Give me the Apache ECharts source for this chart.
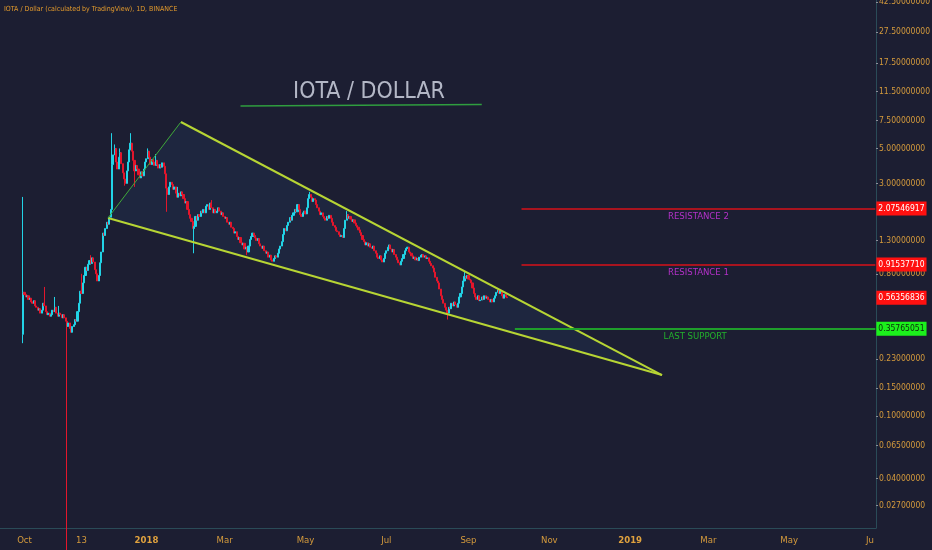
<!DOCTYPE html>
<html><head><meta charset="utf-8">
<script src="https://cdn.jsdelivr.net/npm/echarts@6/dist/echarts.min.js"></script>
<style>html,body{margin:0;padding:0;background:#1c1e32;}#c{width:932px;height:550px;}</style>
</head><body><div id="c"></div>
<script>
// ---------- data ----------
const startDay = '2017-09-13';
const dayCount = 661;
const timeLabelDates = ['2017-10-01','2017-11-13','2018-01-01','2018-03-01','2018-05-01','2018-07-01','2018-09-01','2018-11-01','2019-01-01','2019-03-01','2019-05-01','2019-07-01'];
const timeLabelTexts = ['Oct','13','2018','Mar','May','Jul','Sep','Nov','2019','Mar','May','Ju'];
const boldLabels = ['2018','2019'];
const priceTicks = [42.5, 27.5, 17.5, 11.5, 7.5, 5, 3, 1.3, 0.8, 0.23, 0.15, 0.1, 0.065, 0.04, 0.027];

const firstCandleDate = '2017-09-30';
const firstOpen = 0.33;
const closes = [
 0.61,
 0.59,0.57,0.58,0.55,0.56,0.53,0.52,0.54,0.50,0.49,
 0.47,0.48,0.45,0.47,0.52,0.50,0.46,0.44,0.45,0.43,
 0.44,0.47,0.46,0.49,0.45,0.43,0.45,0.44,0.42,0.44,
 0.42,0.40,0.37,0.39,0.36,0.34,0.37,0.38,0.41,0.40,
 0.46,0.52,0.62,0.60,0.70,0.78,0.88,0.84,0.92,0.97,
 0.93,1.01,0.95,0.85,0.80,0.72,0.78,0.94,1.10,1.45,
 1.40,1.55,1.70,1.65,1.83,2.05,3.95,4.55,5.00,4.10,
 3.70,4.40,4.70,4.00,3.50,3.20,3.00,3.60,4.10,4.90,
 5.40,4.80,4.20,3.60,3.90,3.70,3.40,3.25,3.55,3.35,
 3.70,4.10,4.30,4.80,4.40,3.95,4.25,4.10,3.90,4.20,
 3.95,3.75,3.95,3.80,4.05,3.85,3.45,2.80,2.55,2.85,
 3.05,2.95,2.75,2.85,2.60,2.45,2.60,2.50,2.65,2.55,
 2.40,2.25,2.30,2.05,1.90,1.80,1.72,1.55,1.60,1.85,
 1.75,1.90,1.85,2.00,1.95,2.05,1.95,2.15,2.20,2.05,
 2.25,2.10,1.95,2.05,1.95,2.00,2.10,2.00,1.90,1.95,
 1.85,1.80,1.82,1.70,1.65,1.70,1.58,1.55,1.45,1.48,
 1.38,1.32,1.36,1.26,1.22,1.25,1.15,1.18,1.10,1.20,
 1.32,1.38,1.45,1.40,1.35,1.30,1.34,1.24,1.20,1.16,
 1.20,1.12,1.08,1.10,1.02,1.05,0.98,0.96,1.00,1.04,
 1.02,1.08,1.15,1.20,1.28,1.42,1.55,1.50,1.62,1.70,
 1.82,1.75,1.88,1.95,2.05,1.98,2.20,2.05,1.90,1.85,
 1.95,2.00,1.92,2.10,2.40,2.55,2.45,2.30,2.40,2.35,
 2.20,2.10,2.00,1.90,1.95,1.85,1.80,1.75,1.85,1.80,
 1.88,1.80,1.70,1.62,1.58,1.50,1.48,1.42,1.38,1.40,
 1.36,1.55,1.75,1.90,1.80,1.85,1.78,1.72,1.76,1.68,
 1.62,1.58,1.52,1.46,1.40,1.32,1.28,1.22,1.26,1.20,
 1.24,1.18,1.16,1.20,1.12,1.08,1.02,1.00,1.04,0.98,
 0.95,1.00,1.08,1.12,1.18,1.22,1.15,1.10,1.14,1.06,
 1.02,0.98,0.94,0.91,0.96,1.00,1.06,1.12,1.16,1.18,
 1.10,1.08,1.04,1.00,1.02,0.98,1.00,0.97,1.02,1.05,
 1.06,1.02,1.04,1.00,1.01,0.96,0.93,0.90,0.87,0.82,
 0.76,0.72,0.70,0.64,0.58,0.55,0.52,0.49,0.47,0.45,
 0.49,0.48,0.52,0.50,0.53,0.51,0.49,0.52,0.57,0.60,
 0.66,0.72,0.77,0.75,0.78,0.74,0.73,0.70,0.65,0.60,
 0.57,0.55,0.58,0.54,0.545,0.57,0.55,0.58,0.56,0.57,
 0.55,0.53,0.55,0.53,0.56,0.58,0.61,0.63,0.60,0.62,
 0.58,0.56,0.59,0.57,0.56356836
];
// notable wicks: [date, high, low]
const wicks = [
 ['2017-09-30', 2.46, 0.29],
 ['2017-10-16', 0.66, null],
 ['2017-10-24', 0.57, null],
 ['2017-10-27', 0.50, null],
 ['2017-11-02', null, 0.01],
 ['2017-11-13', 0.80, null],
 ['2017-11-20', 1.05, null],
 ['2017-12-06', 6.25, null],
 ['2017-12-08', 5.3, null],
 ['2017-12-12', 5.0, null],
 ['2017-12-16', null, 2.9],
 ['2017-12-20', 6.25, null],
 ['2017-12-23', null, 2.85],
 ['2018-01-02', 5.0, null],
 ['2018-01-08', 4.6, null],
 ['2018-01-16', null, 1.98],
 ['2018-01-25', 2.85, null],
 ['2018-02-06', null, 1.08],
 ['2018-02-19', 2.35, null],
 ['2018-03-18', null, 1.05],
 ['2018-05-04', 2.65, null],
 ['2018-06-01', 2.0, null],
 ['2018-08-16', null, 0.41],
 ['2018-08-29', 0.82, null]
];
const wedgeUpper = [['2018-01-27', 7.36], ['2019-01-25', 0.182]];
const wedgeLower = [['2017-12-03', 1.81], ['2019-01-25', 0.182]];
const wedgeSide = [['2017-12-03', 1.81], ['2018-01-27', 7.36]];
const titleUnderline = [['2018-03-13', 9.3], ['2018-09-11', 9.5]];
const levelNames = ['RESISTANCE 2', 'RESISTANCE 1', 'LAST SUPPORT'];
const levelValues = [2.07546917, 0.91537710, 0.35765051];
const levelStarts = ['2018-10-11', '2018-10-11', '2018-10-06'];
const levelKinds = ['res', 'res', 'sup'];
const lastPrice = 0.56356836;

// ---------- build ----------
const DAY = 86400000;
const t0 = Date.parse(startDay + 'T00:00:00Z');
const idx = s => Math.round((Date.parse(s + 'T00:00:00Z') - t0) / DAY);
const days = [];
for (let i = 0; i < dayCount; i++) days.push(new Date(t0 + i * DAY).toISOString().slice(0, 10));
const labelMap = {};
timeLabelDates.forEach((d, i) => labelMap[d] = timeLabelTexts[i]);

const wickMap = {};
wicks.forEach(w => wickMap[idx(w[0])] = w);
const first = idx(firstCandleDate);
const candles = [];
let prev = firstOpen;
closes.forEach((c, i) => {
  const d = first + i, o = prev;
  let hi = Math.max(o, c), lo = Math.min(o, c);
  const w = wickMap[d];
  if (w) { if (w[1] != null) hi = Math.max(hi, w[1]); if (w[2] != null) lo = Math.min(lo, w[2]); }
  candles.push([d, o, c, lo, hi]);
  prev = c;
});
const pts = arr => arr.map(p => [idx(p[0]), p[1]]);

const FONT = '"DejaVu Sans Condensed", "Liberation Sans Narrow", sans-serif';
const UP = '#22d3e6', DOWN = '#e3162c';
const lastIdx = dayCount - 1;

const levelLines = [];
const boxLines = [];
levelValues.forEach((v, i) => {
  const res = levelKinds[i] === 'res';
  levelLines.push([
    { coord: [idx(levelStarts[i]), v],
      lineStyle: { color: res ? '#a8141f' : '#1f9e2b', width: 2, type: 'solid' },
      label: { show: true, position: 'insideMiddleBottom', formatter: () => levelNames[i],
               color: res ? '#b431c9' : '#22b02c', fontSize: 9.5, fontFamily: FONT, distance: 3 } },
    { coord: [lastIdx, v] }
  ]);
  boxLines.push([
    { coord: [lastIdx - 2, v],
      lineStyle: { color: 'rgba(0,0,0,0)', width: 0 },
      label: { show: true, position: 'end', distance: 1, formatter: () => v.toFixed(8),
               color: res ? '#ffffff' : '#0c2a0c', backgroundColor: res ? '#ff1010' : '#1cf01c',
               padding: [3, 2, 2, 2], fontSize: 8.5, fontFamily: FONT } },
    { coord: [lastIdx, v] }
  ]);
});
boxLines.push([
  { coord: [lastIdx - 2, lastPrice], lineStyle: { color: 'rgba(0,0,0,0)', width: 0 },
    label: { show: true, position: 'end', distance: 1, formatter: () => lastPrice.toFixed(8),
             color: '#ffffff', backgroundColor: '#ff1010', padding: [3, 2, 2, 2], fontSize: 8.5, fontFamily: FONT } },
  { coord: [lastIdx, lastPrice] }
]);

const wedgeTri = [[idx(wedgeSide[0][0]), wedgeSide[0][1], idx(wedgeSide[1][0]), wedgeSide[1][1], idx(wedgeUpper[1][0]), wedgeUpper[1][1]]];

const chart = echarts.init(document.getElementById('c'));
chart.setOption({
  backgroundColor: '#1c1e32',
  animation: false,
  grid: { left: 0, right: 56, top: 0, bottom: 22, containLabel: false, outerBoundsMode: 'none' },
  xAxis: {
    type: 'category', data: days, boundaryGap: true,
    axisLine: { show: true, lineStyle: { color: '#2a4b58', width: 1 } },
    axisTick: { show: false },
    axisLabel: {
      interval: (i, v) => labelMap[v] !== undefined,
      formatter: v => boldLabels.includes(labelMap[v]) ? '{b|' + labelMap[v] + '}' : labelMap[v],
      color: '#d49a3c', fontSize: 9.5, fontFamily: FONT, margin: 8,
      rich: { b: { fontWeight: 'bold', color: '#e0a23e', fontSize: 9.5, fontFamily: FONT } }
    },
    splitLine: { show: false }
  },
  yAxis: {
    type: 'log', logBase: 10, position: 'right', min: 0.01945, max: 43.8,
    axisLine: { show: true, lineStyle: { color: '#2a4b58', width: 1 } },
    axisTick: { show: true, length: 2, customValues: priceTicks, lineStyle: { color: '#8c8f9a' } },
    axisLabel: { customValues: priceTicks, formatter: v => Number(v).toFixed(8),
                 color: '#d49a3c', fontSize: 8.5, fontFamily: FONT, margin: 3 },
    splitLine: { show: false }
  },
  graphic: [
    { type: 'text', left: 4, top: 6, silent: true,
      style: { text: 'IOTA / Dollar (calculated by TradingView), 1D, BINANCE', fill: '#e39a2c', font: '7px ' + FONT } },
    { type: 'text', x: 369, y: 92, silent: true,
      style: { text: 'IOTA / DOLLAR', fill: '#b3b7c6', font: '23px ' + FONT, align: 'center', verticalAlign: 'middle',
               textAlign: 'center', textVerticalAlign: 'middle' } }
  ],
  series: [
    {
      type: 'custom', z: 1, silent: true, data: wedgeTri, encode: { x: [0, 2, 4], y: [1, 3, 5] },
      renderItem: (params, api) => {
        const p = [[api.value(0), api.value(1)], [api.value(2), api.value(3)], [api.value(4), api.value(5)]].map(q => api.coord(q));
        return { type: 'polygon', shape: { points: p }, style: { fill: 'rgba(40,95,150,0.14)' } };
      }
    },
    {
      type: 'candlestick', z: 2, silent: true, data: candles, encode: { x: 0, y: [1, 2, 3, 4] },
      barWidth: 1.6,
      itemStyle: { color: UP, color0: DOWN, borderColor: UP, borderColor0: DOWN, borderWidth: 1 },
      markLine: { silent: true, symbol: ['none', 'none'], animation: false, data: levelLines }
    },
    { type: 'line', z: 3, silent: true, data: pts(wedgeUpper), showSymbol: false, lineStyle: { color: '#b7d534', width: 2 } },
    { type: 'line', z: 3, silent: true, data: pts(wedgeLower), showSymbol: false, lineStyle: { color: '#b7d534', width: 2 } },
    { type: 'line', z: 3, silent: true, data: pts(wedgeSide), showSymbol: false, lineStyle: { color: '#3fa83a', width: 1 } },
    { type: 'line', z: 3, silent: true, data: pts(titleUnderline), showSymbol: false, lineStyle: { color: '#2f9e3f', width: 1.5 } },
    { type: 'line', z: 10, silent: true, clip: false, data: [], showSymbol: false,
      markLine: { silent: true, symbol: ['none', 'none'], animation: false, data: boxLines } }
  ]
});
</script></body></html>
